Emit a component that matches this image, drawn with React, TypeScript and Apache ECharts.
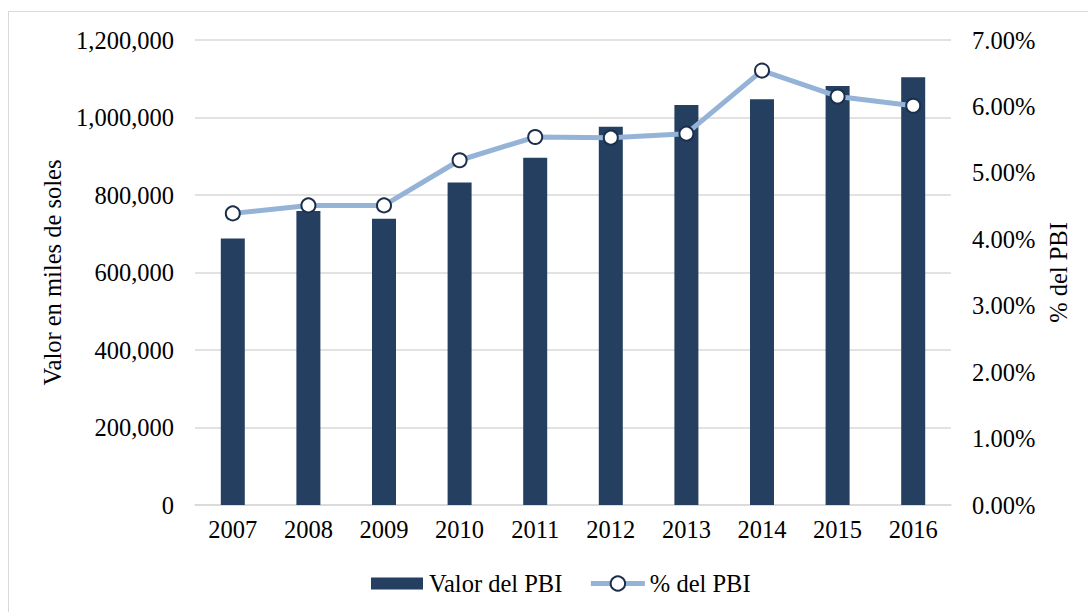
import React, { useEffect, useRef } from "react";
import * as echarts from "echarts";

const years = ["2007", "2008", "2009", "2010", "2011", "2012", "2013", "2014", "2015", "2016"];
const valorPBI = [688000, 759000, 739000, 832000, 896000, 976000, 1032000, 1047000, 1081000, 1104000];
const pctPBI = [4.39, 4.51, 4.51, 5.19, 5.54, 5.53, 5.59, 6.54, 6.15, 6.01];

const FONT = "Liberation Serif, Times New Roman, serif";
const FS = 24.5;

export default function App() {
  const ref = useRef<HTMLDivElement>(null);
  useEffect(() => {
    if (!ref.current) return;
    const chart = echarts.init(ref.current, undefined, { renderer: "svg" });
    chart.setOption({
      animation: false,
      backgroundColor: "#fff",
      textStyle: { fontFamily: FONT, color: "#000" },
      grid: { left: 195, right: 137, top: 40, bottom: 107, containLabel: false },
      graphic: [
        { type: "line", shape: { x1: 8.5, y1: 11, x2: 8.5, y2: 612 }, style: { stroke: "#D9D9D9", lineWidth: 1 } },
        { type: "line", shape: { x1: 8, y1: 11.5, x2: 1088, y2: 11.5 }, style: { stroke: "#D9D9D9", lineWidth: 1 } },
      ],
      legend: {
        left: 366,
        top: 566,
        itemWidth: 54,
        itemHeight: 18,
        itemGap: 26,
        textStyle: { fontFamily: FONT, fontSize: FS, color: "#000" },
        lineStyle: { width: 5 },
        data: [
          { name: "Valor del PBI", icon: "path://M0,0M0,3h52v12h-52zM52,18" },
          { name: "% del PBI" },
        ],
      },
      xAxis: {
        type: "category",
        data: years,
        axisLine: { lineStyle: { color: "#D9D9D9", width: 1.5 } },
        axisTick: { show: false },
        axisLabel: { fontFamily: FONT, fontSize: FS, color: "#000", margin: 12 },
      },
      yAxis: [
        {
          type: "value",
          min: 0,
          max: 1200000,
          interval: 200000,
          name: "Valor en miles de soles",
          nameLocation: "middle",
          nameRotate: 90,
          nameGap: 125,
          nameTextStyle: { fontFamily: FONT, fontSize: FS, color: "#000" },
          axisLine: { show: false },
          axisTick: { show: false },
          splitLine: { lineStyle: { color: "#D9D9D9", width: 1.5 } },
          axisLabel: {
            fontFamily: FONT,
            fontSize: FS,
            color: "#000",
            margin: 21,
            formatter: (v: number) => v.toLocaleString("en-US"),
          },
        },
        {
          type: "value",
          position: "right",
          min: 0,
          max: 7,
          interval: 1,
          name: "% del PBI",
          nameLocation: "middle",
          nameRotate: 90,
          nameGap: 94,
          nameTextStyle: { fontFamily: FONT, fontSize: FS, color: "#000" },
          axisLine: { show: false },
          axisTick: { show: false },
          splitLine: { show: false },
          axisLabel: {
            fontFamily: FONT,
            fontSize: FS,
            color: "#000",
            margin: 21,
            formatter: (v: number) => v.toFixed(2) + "%",
          },
        },
      ],
      series: [
        {
          name: "Valor del PBI",
          type: "bar",
          data: valorPBI,
          barWidth: 24,
          itemStyle: { color: "#243F60" },
        },
        {
          name: "% del PBI",
          type: "line",
          yAxisIndex: 1,
          data: pctPBI,
          symbol: "circle",
          symbolSize: 14,
          lineStyle: { color: "#95B3D7", width: 5 },
          itemStyle: { color: "#FFFFFF", borderColor: "#1B2F4B", borderWidth: 2 },
        },
      ],
    });
    return () => chart.dispose();
  }, []);
  return (
    <div
      ref={ref}
      style={{ position: "fixed", left: 0, top: 0, width: 1088, height: 612 }}
    />
  );
}
